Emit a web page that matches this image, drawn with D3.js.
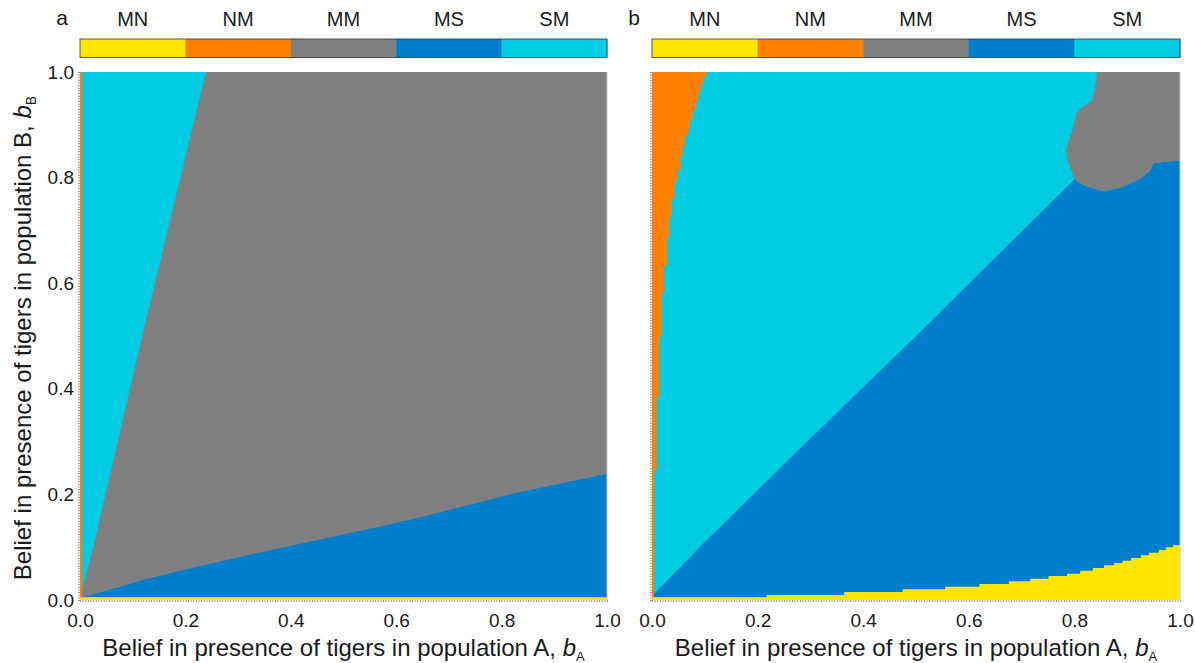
<!DOCTYPE html>
<html><head><meta charset="utf-8">
<script src="https://cdn.jsdelivr.net/npm/d3@7"></script>
<style>
body{margin:0;background:#fff}
svg{display:block}
text{font-family:"Liberation Sans",Arial,Helvetica,sans-serif;fill:#1a1a1a}
</style>
</head><body>
<svg id="chart" width="1195" height="663"></svg>
<script>
// ---------- data ----------
const categories = ["MN", "NM", "MM", "MS", "SM"];
const categoryColors = ["#FFE600", "#FF8000", "#808080", "#0080CC", "#00CCE4"];
const xTickValues = [0, 0.2, 0.4, 0.6, 0.8, 1.0];
const yTickValues = [0, 0.2, 0.4, 0.6, 0.8, 1.0];
const panelLabels = ["a", "b"];
const xTitle = "Belief in presence of tigers in population A, ";
const yTitle = "Belief in presence of tigers in population B, ";

// Panel a : regions as [b_A, b_B] polygons (background = MM)
const aRegionSM = [[0,0.005],[0.004,0.02],[0.03,0.12],[0.118,0.5],[0.239,1],[0,1]];
const aRegionMS = [[0.004,0.005],[0.02,0.009],[0.034,0.0133],[0.127,0.040],[0.214,0.061],[0.336,0.089],[0.5,0.124],[0.639,0.155],[0.829,0.203],[1,0.239],[1,0.005]];
const aRegionMN = [[0,0],[1,0],[1,0.005],[0,0.005]];
const aRegionNM = [[0,0.005],[0.004,0.005],[0.004,1],[0,1]];

// Panel b : regions (background = SM)
const bRegionMS = [[0.004,0.005],[0.004,0.012],[0.012,0.02],[0.0909,0.101],[0.277,0.284],[0.5,0.5],[0.8,0.797],[0.813,0.788],[0.833,0.780],[0.852,0.775],[0.866,0.776],[0.892,0.782],[0.924,0.797],[0.944,0.814],[0.950,0.827],[0.983,0.831],[1,0.833],[1,0.005]];
const bRegionMM = [[0.843,1],[0.839,0.970],[0.833,0.945],[0.8125,0.932],[0.803,0.919],[0.797,0.892],[0.790,0.873],[0.784,0.852],[0.787,0.833],[0.794,0.814],[0.800,0.797],[0.813,0.788],[0.833,0.780],[0.852,0.775],[0.866,0.776],[0.892,0.782],[0.924,0.797],[0.944,0.814],[0.950,0.827],[0.983,0.831],[1,0.833],[1,1]];
// NM band: [b_B start, b_A extent]
const bBandNM = [[0.005,0.004],[0.246,0.009],[0.385,0.014],[0.499,0.018],[0.581,0.023],[0.634,0.029],[0.688,0.033],[0.726,0.037],[0.761,0.043],[0.792,0.048],[0.814,0.054],[0.840,0.058],[0.860,0.0625],[0.879,0.069],[0.893,0.072],[0.909,0.077],[0.928,0.083],[0.944,0.088],[0.960,0.092],[0.975,0.097],[0.991,0.104],[1.0,0.104]];
// MN band: [b_A start, b_B top]
const bBandMN = [[0,0.005],[0.217,0.0095],[0.364,0.0152],[0.475,0.0203],[0.555,0.0252],[0.620,0.0303],[0.676,0.0354],[0.716,0.0403],[0.751,0.0455],[0.786,0.0498],[0.811,0.0555],[0.835,0.0606],[0.856,0.0657],[0.875,0.0701],[0.891,0.0744],[0.907,0.0795],[0.926,0.0847],[0.941,0.0896],[0.960,0.0947],[0.973,0.0998],[0.987,0.104],[1,0.104]];

// ---------- drawing ----------
const svg = d3.select("#chart");
const color = d3.scaleOrdinal().domain(categories).range(categoryColors);
const plotTop = 72, plotBottom = 600;
const FONT = "Liberation Sans, Arial, sans-serif";
const panels = [
  {left: 80, right: 607, bg: "MM",
   polys: [["SM", aRegionSM], ["MS", aRegionMS], ["NM", aRegionNM], ["MN", aRegionMN]],
   bandsV: [], bandsH: [], yAxis: true},
  {left: 652, right: 1180, bg: "SM",
   polys: [["MS", bRegionMS], ["MM", bRegionMM]],
   bandsV: [["NM", bBandNM]], bandsH: [["MN", bBandMN]], yAxis: false}
];

panels.forEach((p, i) => {
  const x = d3.scaleLinear().domain([0, 1]).range([p.left, p.right]);
  const y = d3.scaleLinear().domain([0, 1]).range([plotBottom, plotTop]);
  const g = svg.append("g");

  g.append("rect").attr("x", x(0)).attr("y", y(1))
    .attr("width", x(1) - x(0)).attr("height", y(0) - y(1))
    .attr("fill", color(p.bg));

  const line = d3.line().x(d => x(d[0])).y(d => y(d[1]));
  p.polys.forEach(([cat, pts]) => {
    g.append("path").attr("d", line(pts) + "Z").attr("fill", color(cat));
  });
  p.bandsV.forEach(([cat, pts]) => {
    const area = d3.area().curve(d3.curveStepBefore)
      .y(d => y(d[0])).x0(x(0)).x1(d => x(d[1]));
    g.append("path").attr("d", area(pts)).attr("fill", color(cat));
  });
  p.bandsH.forEach(([cat, pts]) => {
    const area = d3.area().curve(d3.curveStepAfter)
      .x(d => x(d[0])).y0(y(0)).y1(d => y(d[1]));
    g.append("path").attr("d", area(pts)).attr("fill", color(cat));
  });

  g.append("line").attr("x1", x(1)).attr("x2", x(1)).attr("y1", y(0)).attr("y2", y(1))
    .attr("stroke", "#c8c8c8").attr("stroke-width", 1);

  const minor = d3.range(0, 1.0001, 0.005);
  const mb = g.append("g").attr("transform", `translate(0,${plotBottom})`)
    .call(d3.axisBottom(x).tickValues(minor).tickSize(2).tickFormat(""));
  mb.select(".domain").remove();
  mb.selectAll("line").attr("stroke", "#555").attr("stroke-width", 0.6);
  const ml = g.append("g").attr("transform", `translate(${p.left},0)`)
    .call(d3.axisLeft(y).tickValues(minor).tickSize(2).tickFormat(""));
  ml.select(".domain").remove();
  ml.selectAll("line").attr("stroke", "#555").attr("stroke-width", 0.6);

  const xa = g.append("g").attr("transform", `translate(0,${plotBottom})`)
    .call(d3.axisBottom(x).tickValues(xTickValues).tickSize(0).tickPadding(14).tickFormat(d3.format(".1f")));
  xa.select(".domain").remove();
  xa.selectAll("text").attr("font-size", 19).attr("font-family", FONT).attr("fill", "#1a1a1a");

  if (p.yAxis) {
    const ya = g.append("g").attr("transform", `translate(${p.left},0)`)
      .call(d3.axisLeft(y).tickValues(yTickValues).tickSize(0).tickPadding(6).tickFormat(d3.format(".1f")));
    ya.select(".domain").remove();
    ya.selectAll("text").attr("font-size", 19).attr("font-family", FONT).attr("fill", "#1a1a1a");

    const yt = svg.append("text")
      .attr("transform", `translate(31,${(plotTop + plotBottom) / 2 + 2}) rotate(-90)`)
      .attr("text-anchor", "middle").attr("font-size", 24);
    yt.append("tspan").text(yTitle);
    yt.append("tspan").attr("font-style", "italic").text("b");
    yt.append("tspan").attr("font-size", 14).attr("dy", 5).text("B");
  }

  const xt = svg.append("text")
    .attr("x", (p.left + p.right) / 2).attr("y", 656)
    .attr("text-anchor", "middle").attr("font-size", 24);
  xt.append("tspan").text(xTitle);
  xt.append("tspan").attr("font-style", "italic").text("b");
  xt.append("tspan").attr("font-size", 13).attr("dy", 5).text("A");

  const lx = d3.scaleBand().domain(categories).range([p.left, p.right]);
  const lg = g.append("g");
  lg.selectAll("rect").data(categories).join("rect")
    .attr("x", d => lx(d)).attr("y", 39)
    .attr("width", lx.bandwidth() + 0.5).attr("height", 18.5)
    .attr("fill", d => color(d));
  lg.append("rect").attr("x", p.left).attr("y", 39)
    .attr("width", p.right - p.left).attr("height", 18.5)
    .attr("fill", "none").attr("stroke", "#333").attr("stroke-width", 0.8);
  lg.selectAll("text").data(categories).join("text")
    .attr("x", d => lx(d) + lx.bandwidth() / 2).attr("y", 26)
    .attr("text-anchor", "middle").attr("font-size", 20).text(d => d);

  svg.append("text").attr("x", p.left - 18).attr("y", 25)
    .attr("text-anchor", "middle").attr("font-size", 21).text(panelLabels[i]);
});
</script>
</body></html>
